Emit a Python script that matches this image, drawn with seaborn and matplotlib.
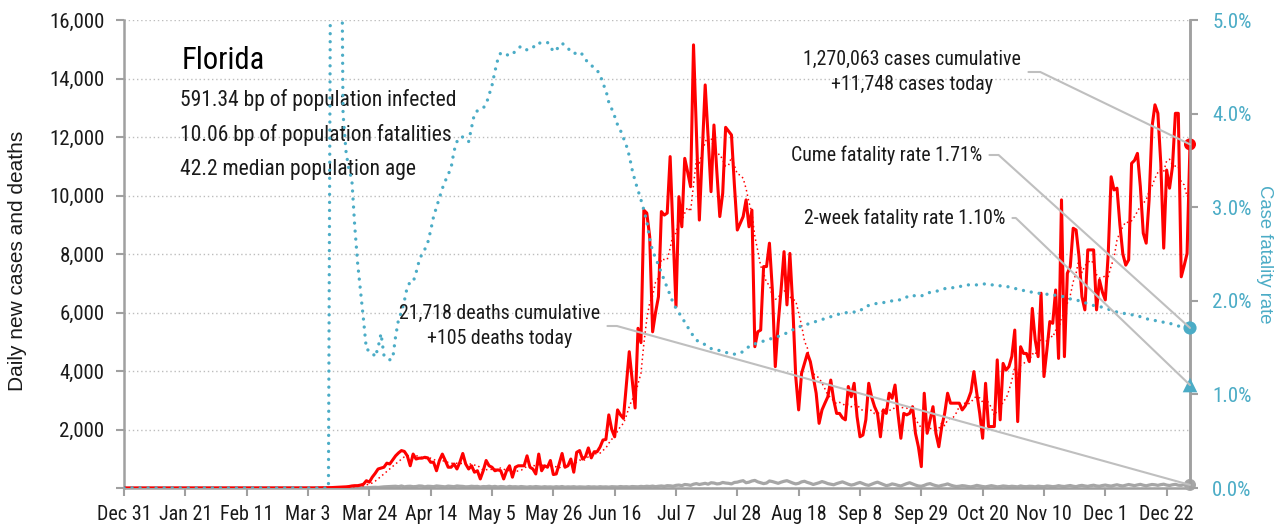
import numpy as np
import pandas as pd
import seaborn as sns
import matplotlib.pyplot as plt
import matplotlib.dates as mdates
from matplotlib import font_manager as fm

# Florida, one value per day from Dec 31 2019 to Dec 30 2020
start = "2019-12-31"

# daily new cases, nothing before Mar 1 (61 zero days)
cases = [0] * 61 + [
    2, 0, 1, 3, 2, 4, 5, 8, 10, 12,
    14, 20, 25, 30, 35, 40, 50, 70, 80, 80,
    100, 130, 250, 200, 370, 500, 650, 680, 710, 850,
    820, 960, 1100, 1200, 1280, 1250, 1100, 760, 1160, 990,
    1020, 1020, 1050, 1030, 880, 880, 590, 940, 1160, 940,
    710, 710, 820, 650, 880, 1180, 820, 650, 760, 540,
    590, 310, 590, 940, 760, 710, 590, 620, 590, 310,
    590, 760, 370, 710, 760, 760, 760, 1100, 710, 650,
    480, 1160, 590, 760, 710, 940, 460, 480, 820, 1180,
    710, 760, 990, 540, 1220, 1280, 990, 1070, 1370, 1030,
    1240, 1240, 1400, 1640, 1660, 2500, 2000, 1750, 2670, 2500,
    2380, 3500, 4660, 3700, 2735, 5460, 4970, 9500, 9400, 8590,
    5340, 6000, 6540, 9450, 9330, 9400, 11330, 8700, 6200, 9960,
    8930, 11270, 10800, 10300, 15150, 12150, 9160, 11500, 13780, 12000,
    10130, 12410, 10800, 9280, 10080, 12330, 12200, 12070, 10360, 8820,
    9050, 9280, 9850, 8930, 9500, 4830, 5340, 5400, 7570, 7570,
    8370, 6770, 4150, 5630, 6800, 8080, 6260, 8020, 6200, 3810,
    2670, 3920, 4260, 4600, 4320, 3800, 3240, 2210, 2670, 2900,
    3120, 3690, 3010, 2550, 2550, 2400, 2330, 3470, 3120, 3580,
    2440, 1750, 1810, 2330, 3580, 3100, 2780, 2550, 1750, 2670,
    2550, 3240, 3070, 3520, 2550, 1700, 2550, 2500, 2550, 2780,
    1870, 1410, 730, 3240, 1870, 2330, 2780, 1870, 1410, 2100,
    2550, 3240, 2900, 2900, 2900, 2900, 2670, 2800, 3010, 3290,
    3980, 3240, 2550, 1700, 3580, 2100, 2100, 2100, 4380, 2330,
    4260, 4030, 4150, 4500, 5400, 2270, 4830, 4600, 4600, 4320,
    6140, 5060, 4490, 6660, 3810, 4720, 5690, 5630, 6770, 4430,
    9850, 4490, 7340, 7570, 8880, 8820, 7910, 6540, 6090, 8140,
    8140, 8140, 6090, 7110, 6700, 6430, 8000, 10640, 10190, 10250,
    9000, 8000, 7620, 7800, 11100, 11200, 11440, 10300, 8710, 8370,
    9850, 12350, 13100, 12810, 11100, 8200, 10870, 10250, 10990, 12810,
    12810, 7220, 7600, 8020, 11748,
]

# daily deaths, none before Mar 6
deaths = [0] * 66 + [
    0, 0, 1, 0, 0, 1, 2, 0, 1, 2,
    3, 2, 4, 5, 7, 10, 12, 10, 15, 20,
    25, 20, 30, 40, 45, 50, 56, 60, 45, 70,
    40, 55, 60, 45, 50, 70, 65, 40, 60, 55,
    45, 70, 60, 50, 40, 65, 55, 45, 70, 60,
    55, 40, 45, 60, 50, 55, 35, 50, 45, 60,
    40, 55, 35, 50, 45, 30, 55, 40, 45, 35,
    50, 40, 30, 45, 35, 50, 40, 30, 45, 35,
    40, 30, 45, 35, 50, 30, 40, 35, 45, 30,
    40, 35, 30, 45, 35, 40, 30, 45, 35, 40,
    30, 45, 40, 35, 50, 40, 45, 35, 50, 45,
    40, 55, 45, 60, 50, 65, 45, 60, 70, 55,
    80, 75, 60, 90, 100, 80, 120, 110, 90, 130,
    150, 120, 140, 160, 130, 180, 170, 140, 150, 190,
    170, 160, 140, 190, 200, 230, 250, 180, 200, 240,
    260, 210, 180, 150, 170, 240, 220, 190, 160, 200,
    230, 250, 210, 170, 140, 160, 210, 230, 190, 160,
    120, 150, 180, 220, 190, 150, 130, 110, 150, 180,
    210, 170, 130, 100, 120, 160, 190, 150, 110, 90,
    130, 170, 200, 160, 120, 80, 100, 140, 120, 90,
    70, 110, 150, 180, 140, 100, 70, 60, 90, 130,
    150, 110, 80, 60, 90, 110, 140, 100, 70, 50,
    60, 80, 70, 50, 40, 60, 90, 70, 50, 40,
    60, 80, 60, 40, 50, 70, 60, 45, 60, 50,
    40, 70, 50, 45, 60, 55, 40, 65, 50, 45,
    70, 60, 45, 55, 80, 60, 50, 70, 85, 60,
    45, 75, 90, 70, 55, 80, 95, 70, 60, 85,
    100, 80, 65, 90, 110, 85, 70, 95, 120, 100,
    80, 105, 125, 95, 75, 100, 120, 110, 90, 115,
    130, 100, 85, 110, 125, 95, 90, 115, 120, 105,
]

# cumulative case fatality rate in %, zero until Mar 10 (goes off the top for a few days)
cfr = [0] * 70 + [
    0, 8, 8, 8, 8, 4.0, 3.6, 3.4, 3.3, 2.8,
    2.4, 2.1, 1.8, 1.48, 1.47, 1.45, 1.40, 1.50, 1.65, 1.42,
    1.38, 1.37, 1.38, 1.62, 1.80, 1.88, 2.0, 2.15, 2.2, 2.2,
    2.3, 2.42, 2.5, 2.55, 2.62, 2.75, 2.9, 3.0, 3.1, 3.2,
    3.28, 3.35, 3.42, 3.6, 3.7, 3.75, 3.75, 3.72, 3.7, 3.85,
    4.0, 4.03, 4.05, 4.06, 4.1, 4.2, 4.3, 4.45, 4.58, 4.65,
    4.64, 4.63, 4.62, 4.63, 4.67, 4.70, 4.72, 4.70, 4.68, 4.69,
    4.70, 4.75, 4.75, 4.76, 4.76, 4.76, 4.72, 4.66, 4.68, 4.72,
    4.75, 4.73, 4.70, 4.66, 4.64, 4.65, 4.66, 4.63, 4.58, 4.54,
    4.52, 4.48, 4.46, 4.42, 4.32, 4.25, 4.12, 4.05, 3.97, 3.88,
    3.82, 3.74, 3.66, 3.55, 3.40, 3.28, 3.18, 3.08, 2.97, 2.85,
    2.66, 2.53, 2.46, 2.38, 2.30, 2.22, 2.14, 2.06, 1.98, 1.92,
    1.87, 1.83, 1.77, 1.72, 1.67, 1.62, 1.58, 1.56, 1.55, 1.53,
    1.51, 1.49, 1.48, 1.47, 1.47, 1.46, 1.45, 1.44, 1.43, 1.43,
    1.44, 1.44, 1.46, 1.49, 1.51, 1.52, 1.54, 1.55, 1.56, 1.57,
    1.58, 1.59, 1.60, 1.61, 1.62, 1.63, 1.64, 1.66, 1.67, 1.69,
    1.71, 1.72, 1.73, 1.74, 1.75, 1.76, 1.77, 1.78, 1.79, 1.80,
    1.81, 1.82, 1.83, 1.84, 1.85, 1.86, 1.86, 1.87, 1.88, 1.88,
    1.88, 1.88, 1.89, 1.92, 1.94, 1.95, 1.96, 1.97, 1.97, 1.98,
    1.98, 1.99, 1.99, 2.00, 2.00, 2.01, 2.01, 2.02, 2.04, 2.06,
    2.06, 2.05, 2.05, 2.05, 2.07, 2.08, 2.09, 2.10, 2.10, 2.11,
    2.12, 2.13, 2.13, 2.14, 2.14, 2.15, 2.15, 2.16, 2.16, 2.17,
    2.17, 2.17, 2.17, 2.18, 2.18, 2.18, 2.18, 2.17, 2.17, 2.17,
    2.16, 2.16, 2.15, 2.15, 2.14, 2.13, 2.13, 2.12, 2.11, 2.11,
    2.10, 2.09, 2.09, 2.08, 2.08, 2.07, 2.07, 2.07, 2.06, 2.06,
    2.06, 2.05, 2.04, 2.03, 2.02, 2.02, 2.01, 2.00, 1.99, 1.98,
    1.97, 1.96, 1.95, 1.94, 1.94, 1.93, 1.92, 1.91, 1.90, 1.89,
    1.88, 1.88, 1.87, 1.86, 1.86, 1.85, 1.85, 1.84, 1.83, 1.82,
    1.81, 1.80, 1.80, 1.79, 1.78, 1.78, 1.77, 1.76, 1.76, 1.75,
    1.74, 1.73, 1.73, 1.72, 1.72, 1.71,
]

two_week_cfr = 1.10

tick_dates = ["2019-12-31", "2020-01-21", "2020-02-11", "2020-03-03", "2020-03-24",
              "2020-04-14", "2020-05-05", "2020-05-26", "2020-06-16", "2020-07-07",
              "2020-07-28", "2020-08-18", "2020-09-08", "2020-09-29", "2020-10-20",
              "2020-11-10", "2020-12-01", "2020-12-22"]
tick_labels = ["Dec 31", "Jan 21", "Feb 11", "Mar 3", "Mar 24", "Apr 14", "May 5",
               "May 26", "Jun 16", "Jul 7", "Jul 28", "Aug 18", "Sep 8", "Sep 29",
               "Oct 20", "Nov 10", "Dec 1", "Dec 22"]
left_ticks = [0, 2000, 4000, 6000, 8000, 10000, 12000, 14000, 16000]
left_labels = ["", "2,000", "4,000", "6,000", "8,000", "10,000", "12,000", "14,000", "16,000"]
right_ticks = [0, 1, 2, 3, 4, 5]
right_labels = ["0.0%", "1.0%", "2.0%", "3.0%", "4.0%", "5.0%"]

state = "Florida"
info_lines = ["591.34 bp of population infected",
              "10.06 bp of population fatalities",
              "42.2 median population age"]
cases_note = "1,270,063 cases cumulative\n+11,748 cases today"
deaths_note = "21,718 deaths cumulative\n+105 deaths today"
cume_note = "Cume fatality rate 1.71%"
twowk_note = "2-week fatality rate 1.10%"

red = "#ff0000"
blue = "#4bacc6"
gray = "#a6a6a6"
axis_gray = "#a0a0a0"
ink = "#1a1a1a"

df = pd.DataFrame({"date": pd.date_range(start, periods=len(cases), freq="D"),
                   "cases": cases, "deaths": deaths, "cfr": cfr})
df["avg"] = df["cases"].rolling(7, min_periods=1).mean()

sns.set_style("ticks")

# pick a narrow face for the chart text if one is installed
ttf = fm.fontManager.ttflist
names = {f.name for f in ttf}
narrow = next((n for n in ["Roboto Condensed", "DejaVu Sans Condensed",
                           "Liberation Sans Narrow", "Open Sans Condensed"] if n in names), None)
stretch = "normal"
if narrow is None:
    narrow = "DejaVu Sans"
    if any(f.name == "DejaVu Sans" and f.stretch == "condensed" for f in ttf):
        stretch = "condensed"
plt.rcParams["font.family"] = [narrow, "DejaVu Sans"]
plt.rcParams["font.stretch"] = stretch
label_font = "Liberation Sans" if "Liberation Sans" in names else "DejaVu Sans"

fig = plt.figure(figsize=(12.82, 5.31), dpi=100)
ax = fig.add_axes([124 / 1282, 43 / 531, 1066 / 1282, 468 / 531])

ax.yaxis.grid(True, linestyle=(0, (1, 2)), color="#bdbdbd", linewidth=1)
ax.set_axisbelow(True)

sns.lineplot(data=df, x="date", y="deaths", ax=ax, color=gray, linewidth=2.3, zorder=2)
sns.lineplot(data=df, x="date", y="cases", ax=ax, color=red, linewidth=2.2, zorder=3)
sns.lineplot(data=df, x="date", y="avg", ax=ax, color=red, linewidth=1.1,
             linestyle=(0, (1, 2)), zorder=4)

ax.set_xlim(df["date"].iloc[0], df["date"].iloc[-1])
ax.set_ylim(0, 16000)
ax.set_yticks(left_ticks)
ax.set_yticklabels(left_labels)
ax.set_xticks(pd.to_datetime(tick_dates))
ax.set_xticklabels(tick_labels)
ax.tick_params(axis="y", length=6, width=1.5, color=axis_gray, pad=8, labelsize=15, labelcolor=ink)
ax.tick_params(axis="x", length=6, width=1.5, color=axis_gray, pad=6, labelsize=14.5, labelcolor=ink)
for side in ["left", "bottom", "right"]:
    ax.spines[side].set_color(axis_gray)
    ax.spines[side].set_linewidth(1.8)
ax.spines["top"].set_visible(False)

ax2 = ax.twinx()
sns.lineplot(data=df, x="date", y="cfr", ax=ax2, color=blue, linewidth=2.4,
             linestyle=(0, (0.01, 2.4)), dash_capstyle="round", zorder=3)
ax2.set_ylim(0, 5)
ax2.set_yticks(right_ticks)
ax2.set_yticklabels(right_labels)
ax2.tick_params(axis="y", length=6, width=1.5, color=axis_gray, pad=10, labelsize=15, labelcolor=blue)
ax2.spines["right"].set_color(axis_gray)
ax2.spines["right"].set_linewidth(1.8)
for side in ["left", "top", "bottom"]:
    ax2.spines[side].set_visible(False)

# end-of-series markers
last = df.iloc[[-1]]
sns.scatterplot(data=last, x="date", y="cases", ax=ax, color=red, s=75, edgecolor="none",
                zorder=6, clip_on=False)
sns.scatterplot(data=last, x="date", y="deaths", ax=ax, color=gray, s=75, edgecolor="none",
                zorder=6, clip_on=False)
sns.scatterplot(data=last, x="date", y="cfr", ax=ax2, color=blue, s=90, edgecolor="none",
                zorder=6, clip_on=False)
sns.scatterplot(x=last["date"], y=[two_week_cfr], ax=ax2, color=blue, marker="^", s=110,
                edgecolor="none", zorder=6, clip_on=False)

ax.set_xlabel("")
ax2.set_xlabel("")
ax.set_ylabel("Daily new cases and deaths", family=label_font, fontsize=15, color=ink,
              rotation=90, va="center", ha="center")
ax.yaxis.set_label_coords((18 - 124) / 1066, (488 - 261) / 468)
ax2.set_ylabel("Case fatality rate", family=label_font, fontsize=13.3, color=blue,
               rotation=-90, va="center", ha="center")
ax2.yaxis.set_label_coords((1264 - 124) / 1066, (488 - 254) / 468)

# text block
ax.text((182 - 124) / 1066, (488 - 60) / 468, state, transform=ax.transAxes,
        fontsize=22, color="black", va="center", ha="left")
for i, line in enumerate(info_lines):
    ax.text((180 - 124) / 1066, (488 - 100 - 35 * i) / 468, line, transform=ax.transAxes,
            fontsize=15.5, color=ink, va="center", ha="left")

# leader-line notes
x_end = mdates.date2num(df["date"].iloc[-1])
notes = [
    (cases_note, ax, cases[-1], (1021, 72), -25.8),
    (cume_note, ax2, cfr[-1], (982, 155), -42.1),
    (twowk_note, ax2, two_week_cfr, (1005, 218), -43.8),
    (deaths_note, ax, deaths[-1], (600, 326), -15.5),
]
for text, src, yval, (px, py), ang in notes:
    ax2.annotate(text, xy=(x_end, yval), xycoords=src.transData,
                 xytext=((px - 124) / 1066, (488 - py) / 468), textcoords="axes fraction",
                 ha="right", va="center", multialignment="center", fontsize=14.3, color=ink,
                 linespacing=1.35,
                 arrowprops=dict(arrowstyle="-", color="#bfbfbf", lw=1.5, relpos=(1, 0.5),
                                 shrinkA=3, shrinkB=0,
                                 connectionstyle=f"angle,angleA=0,angleB={ang},rad=0"),
                 zorder=7)

fig.savefig("out.png", dpi=100)
